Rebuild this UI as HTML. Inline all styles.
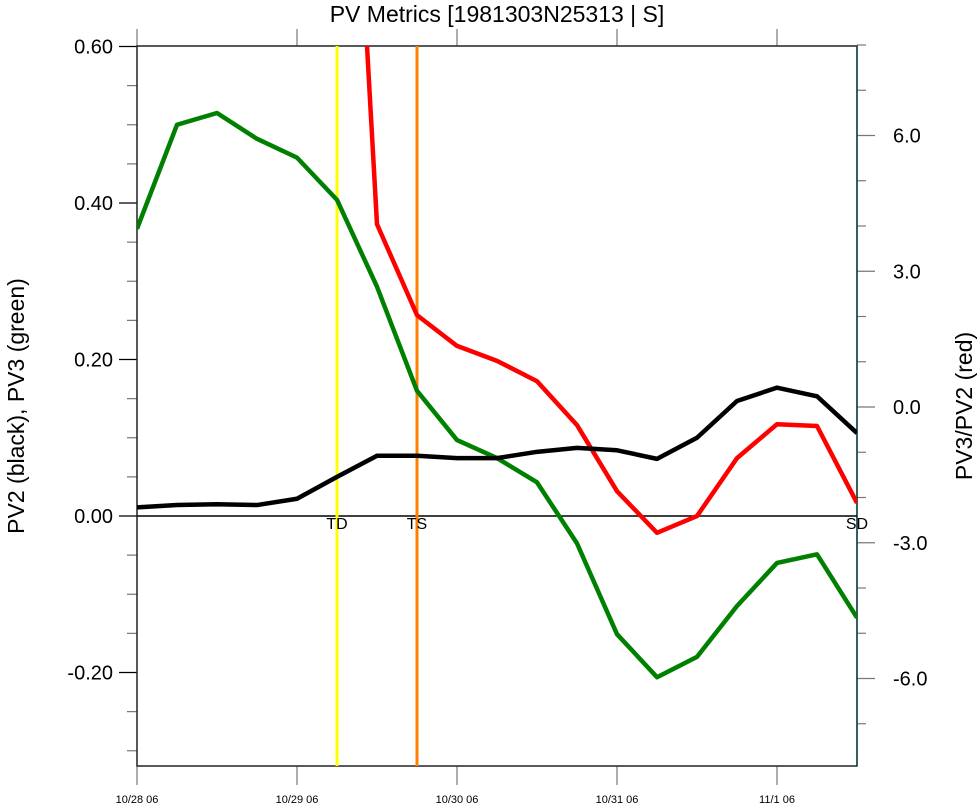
<!DOCTYPE html>
<html><head><meta charset="utf-8"><style>
body{margin:0;background:#fff;}
svg text{font-family:"Liberation Sans",sans-serif;}
</style></head><body>
<svg id="chart" width="980" height="805" xmlns="http://www.w3.org/2000/svg">
<text x="497" y="22" font-size="23" text-anchor="middle">PV Metrics [1981303N25313 | S]</text>
<text transform="translate(24,406) rotate(-90)" font-size="23" text-anchor="middle">PV2 (black), PV3 (green)</text>
<text transform="translate(972,406) rotate(-90)" font-size="23" text-anchor="middle">PV3/PV2 (red)</text>
<g id="axes"></g>
<g id="marks"></g>
</svg>
<script>
const xLabels = ["10/28 06","10/29 06","10/30 06","10/31 06","11/1 06"];
const leftTicks = [0.6,0.4,0.2,0.0,-0.2];
const leftTickLabels = ["0.60","0.40","0.20","0.00","-0.20"];
const rightTicks = [6,3,0,-3,-6];
const rightTickLabels = ["6.0","3.0","0.0","-3.0","-6.0"];
const pv2 = [0.011,0.014,0.015,0.014,0.022,0.050,0.077,0.077,0.074,0.074,0.082,0.087,0.084,0.073,0.100,0.147,0.164,0.153,0.106];
const pv3 = [0.367,0.500,0.515,0.482,0.458,0.404,0.293,0.160,0.097,0.074,0.043,-0.035,-0.151,-0.206,-0.180,-0.115,-0.060,-0.049,-0.130];
const ratio = [null,null,null,null,null,19.8,4.04,2.03,1.35,1.02,0.57,-0.40,-1.86,-2.78,-2.41,-1.13,-0.38,-0.42,-2.12];
const events = [{label:"TD",idx:5,color:"#ffff00"},{label:"TS",idx:7,color:"#ff8000"},{label:"SD",idx:18,color:null}];

const L=137,R=857,T=46,B=766;
const x = i => L + i*40;
const yL = v => 516 - v*782.5;
const yR = v => 407 - v*45.25;
const ns="http://www.w3.org/2000/svg";
const axes=document.getElementById('axes'), marks=document.getElementById('marks');
function mk(tag,attrs,parent){const e=document.createElementNS(ns,tag);for(const k in attrs)e.setAttribute(k,attrs[k]);parent.appendChild(e);return e;}

const defs=mk('defs',{},marks);
const cp=mk('clipPath',{id:'clip'},defs);
mk('rect',{x:L,y:T,width:R-L,height:B-T},cp);

for(let v=0.6; v>=-0.32; v-=0.05){
  const vv=Math.round(v*100)/100;
  const major=Math.abs(Math.round(vv*10)-vv*10)<1e-6 && Math.round(vv*10)%2===0;
  const t=mk('line',{x1:L,x2:major?119:127,y1:yL(vv),y2:yL(vv),stroke:major?'#000':'#777','stroke-width':1.2},axes);
  
  
}
leftTicks.forEach((v,i)=>{
  const t=mk('text',{x:113,y:yL(v)+7,'font-size':20,'text-anchor':'end'},axes);
  t.textContent=leftTickLabels[i];
  
  
});
for(let v=-7; v<=8; v++){
  const major=v%3===0;
  const t=mk('line',{x1:R,x2:major?875:866,y1:yR(v),y2:yR(v),stroke:'#777','stroke-width':1.2},axes);
  
  
}
rightTicks.forEach((v,i)=>{
  const t=mk('text',{x:893,y:yR(v)+7,'font-size':20},axes);
  t.textContent=rightTickLabels[i];
  
  
});
xLabels.forEach((s,i)=>{
  const xx=L+i*160;
  const b=mk('line',{x1:xx,x2:xx,y1:B,y2:785,stroke:'#777','stroke-width':1.2},axes);
  
  
  const tp=mk('line',{x1:xx,x2:xx,y1:T,y2:29,stroke:'#777','stroke-width':1.2},axes);
  
  
  const t=mk('text',{x:xx,y:803,'font-size':11,'text-anchor':'middle'},axes);
  t.textContent=s;
  
  
});
const fr=mk('rect',{x:L,y:T,width:R-L,height:B-T,fill:'none',stroke:'#222','stroke-width':1.5},axes);


mk('line',{x1:R,x2:R,y1:T,y2:B,stroke:'#1a4d4d','stroke-width':1.5},axes);
const z=mk('line',{x1:L,x2:R,y1:yL(0),y2:yL(0),stroke:'#000','stroke-width':1.5},axes);



events.forEach(ev=>{
  if(ev.color){
    const l=mk('line',{x1:x(ev.idx),x2:x(ev.idx),y1:T,y2:B,stroke:ev.color,'stroke-width':3},marks);
    
    
  }
  const t=mk('text',{x:x(ev.idx),y:yL(0)+13,'font-size':16,'text-anchor':'middle'},marks);
  t.textContent=ev.label;
  
  
});

function line(arr,yf,color,name){
  let d='',pen=false;
  arr.forEach((v,i)=>{ if(v===null){pen=false;return;} d+=(pen?'L':'M')+x(i)+','+yf(v); pen=true;});
  const p=mk('path',{d:d,fill:'none',stroke:color,'stroke-width':4.5,'stroke-linejoin':'round','clip-path':'url(#clip)'},marks);
  
  
}
line(ratio,yR,'#ff0000','pv3-pv2-ratio-line');
line(pv3,yL,'#008000','pv3-line');
line(pv2,yL,'#000000','pv2-line');
</script>
</body></html>
